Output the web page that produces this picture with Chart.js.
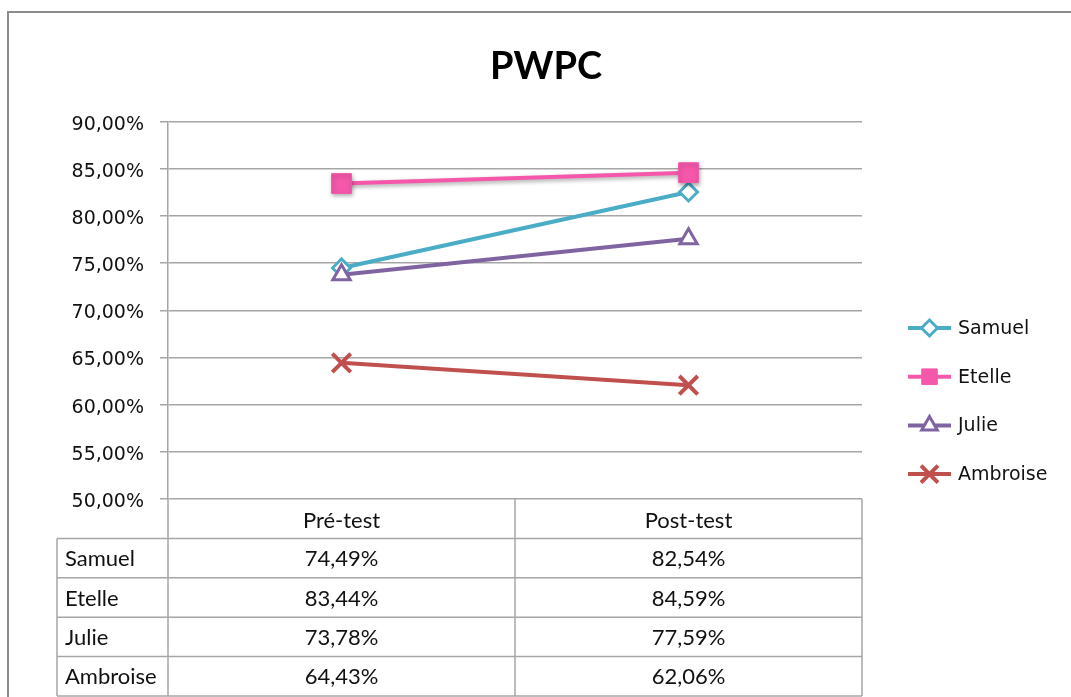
<!DOCTYPE html>
<html>
<head>
<meta charset="utf-8">
<script src="https://cdn.jsdelivr.net/npm/chart.js@4/dist/chart.umd.min.js"></script>
<style>
  html, body { margin: 0; padding: 0; background: #fff; }
  #wrap { position: relative; width: 1071px; height: 697px; }
</style>
</head>
<body>
<div id="wrap"><canvas id="pwpc" width="1071" height="697"></canvas></div>
<script>
// données
const categories = ['Pré-test', 'Post-test'];
const seriesNames = ['Samuel', 'Etelle', 'Julie', 'Ambroise'];
const samuel = [74.49, 82.54];
const etelle = [83.44, 84.59];
const julie = [73.78, 77.59];
const ambroise = [64.43, 62.06];
const yTicks = [50, 55, 60, 65, 70, 75, 80, 85, 90];

const colors = ['#4BACC6', '#F558AA', '#8064A2', '#C0504D'];
const markers = [
  { style: 'rectRot', radius: 9, fill: '#fff', border: 3 },
  { style: 'rect', radius: 14, fill: '#F558AA', border: 1 },
  { style: 'triangle', radius: 10, fill: '#fff', border: 3 },
  { style: 'crossRot', radius: 13, fill: '#C0504D', border: 4 }
];
const allValues = [samuel, etelle, julie, ambroise];

const fmt = v => v.toFixed(2).replace('.', ',') + '%';
const tableFont = '22px Lato';
const axisFont = { family: 'DejaVu Sans', size: 19 };

// cadre gris autour du graphique
const framePlugin = {
  id: 'frame',
  beforeDraw(chart) {
    const ctx = chart.ctx;
    ctx.save();
    ctx.fillStyle = '#fff';
    ctx.fillRect(0, 0, chart.width, chart.height);
    ctx.strokeStyle = '#8c8c8c';
    ctx.lineWidth = 2;
    ctx.beginPath();
    ctx.moveTo(8, chart.height);
    ctx.lineTo(8, 12);
    ctx.lineTo(chart.width, 12);
    ctx.stroke();
    ctx.restore();
  }
};

// le titre est centré sur tout le cadre, pas seulement sur la zone du graphique
const titleCenterPlugin = {
  id: 'titleCenter',
  afterLayout(chart) {
    const t = chart.titleBlock;
    if (!t) return;
    t.left = 21;
    t.right = chart.width;
    t.width = t.right - t.left;
  }
};

// ombre sous les carrés roses
const shadowPlugin = {
  id: 'shadow',
  beforeDatasetDraw(chart, args) {
    if (args.index !== 1) return;
    const ctx = chart.ctx;
    ctx.save();
    ctx.shadowColor = 'rgba(0,0,0,0.35)';
    ctx.shadowBlur = 4;
    ctx.shadowOffsetX = 1;
    ctx.shadowOffsetY = 2;
  },
  afterDatasetDraw(chart, args) {
    if (args.index !== 1) return;
    chart.ctx.restore();
  }
};

// tableau de données sous l'axe
const tablePlugin = {
  id: 'dataTable',
  afterDraw(chart) {
    const ctx = chart.ctx;
    const xs = chart.scales.x;
    const { left, right, bottom } = chart.chartArea;
    const rowH = 39.4;
    const tableLeft = 57;
    const centers = categories.map((c, i) => xs.getPixelForValue(i));
    const half = (centers[1] - centers[0]) / 2;
    const nRows = seriesNames.length + 1;

    ctx.save();
    ctx.strokeStyle = '#a6a6a6';
    ctx.lineWidth = 1.5;
    ctx.beginPath();
    for (let k = 1; k <= nRows; k++) {
      const y = bottom + k * rowH;
      ctx.moveTo(tableLeft, y);
      ctx.lineTo(right, y);
    }
    ctx.moveTo(tableLeft, bottom + rowH);
    ctx.lineTo(tableLeft, bottom + nRows * rowH);
    ctx.moveTo(left, bottom);
    ctx.lineTo(left, bottom + nRows * rowH);
    centers.forEach(cx => {
      ctx.moveTo(cx + half, bottom);
      ctx.lineTo(cx + half, bottom + nRows * rowH);
    });
    ctx.stroke();

    ctx.fillStyle = '#111';
    ctx.font = tableFont;
    ctx.textBaseline = 'middle';
    ctx.textAlign = 'center';
    categories.forEach((c, i) => ctx.fillText(c, centers[i], bottom + rowH / 2 + 2));
    seriesNames.forEach((name, r) => {
      const y = bottom + (r + 1) * rowH + rowH / 2 + 1;
      ctx.textAlign = 'left';
      ctx.fillText(name, tableLeft + 8, y);
      ctx.textAlign = 'center';
      allValues[r].forEach((v, i) => ctx.fillText(fmt(v), centers[i], y));
    });
    ctx.restore();
  }
};

// légende à droite : trait + marqueur
const legendPlugin = {
  id: 'sideLegend',
  afterDraw(chart) {
    const ctx = chart.ctx;
    const x0 = 908, x1 = 951, y0 = 328, gap = 48.7;
    ctx.save();
    seriesNames.forEach((name, i) => {
      const y = y0 + i * gap;
      ctx.strokeStyle = colors[i];
      ctx.lineWidth = 4;
      ctx.beginPath();
      ctx.moveTo(x0, y);
      ctx.lineTo(x1, y);
      ctx.stroke();
      const m = markers[i];
      ctx.fillStyle = m.fill;
      ctx.strokeStyle = colors[i];
      ctx.lineWidth = m.border;
      Chart.helpers.drawPoint(ctx, { pointStyle: m.style, radius: i === 1 ? 11 : m.radius - 1, rotation: 0, borderWidth: m.border }, (x0 + x1) / 2, y);
      ctx.fillStyle = '#111';
      ctx.font = '19px "DejaVu Sans"';
      ctx.textBaseline = 'middle';
      ctx.textAlign = 'left';
      ctx.fillText(name, 958, y + 1);
    });
    ctx.restore();
  }
};

const datasets = seriesNames.map((name, i) => ({
  label: name,
  data: allValues[i],
  borderColor: colors[i],
  backgroundColor: markers[i].fill,
  borderWidth: 4,
  pointStyle: markers[i].style,
  pointRadius: markers[i].radius,
  pointBorderWidth: markers[i].border,
  pointBorderColor: colors[i],
  pointBackgroundColor: markers[i].fill,
  tension: 0,
  clip: false,
  order: seriesNames.length - i
}));

document.addEventListener('DOMContentLoaded', () => {
  new Chart(document.getElementById('pwpc'), {
    type: 'line',
    data: { labels: categories, datasets: datasets },
    plugins: [framePlugin, titleCenterPlugin, shadowPlugin, tablePlugin, legendPlugin],
    options: {
      responsive: false,
      animation: false,
      events: [],
      layout: { padding: { top: 12, right: 209, bottom: 198, left: 0 } },
      plugins: {
        legend: { display: false },
        tooltip: { enabled: false },
        title: {
          display: true,
          text: 'PWPC',
          color: '#000',
          font: { family: 'Lato', size: 38, weight: 'bold', lineHeight: 1.2 },
          padding: { top: 32, bottom: 32 }
        }
      },
      scales: {
        x: {
          type: 'category',
          offset: true,
          display: false
        },
        y: {
          min: 50,
          max: 90,
          afterFit: scale => { scale.width = 168; },
          afterBuildTicks: scale => { scale.ticks = yTicks.map(v => ({ value: v })); },
          ticks: {
            color: '#111',
            font: axisFont,
            padding: 16,
            labelOffset: 3,
            callback: v => v.toFixed(2).replace('.', ',') + '%'
          },
          grid: { color: '#a6a6a6', lineWidth: 1.5, tickLength: 8, drawTicks: true },
          border: { color: '#a6a6a6', width: 1.5 }
        }
      }
    }
  });
});
</script>
</body>
</html>
